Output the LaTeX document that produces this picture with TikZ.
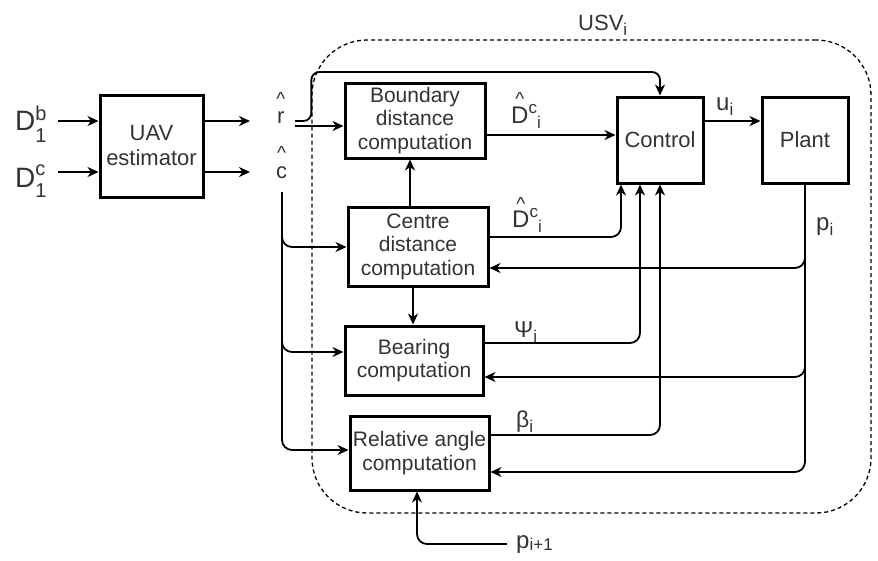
\documentclass[tikz,border=0pt]{standalone}
\usepackage{fontspec}
\setmainfont{Liberation Sans}
\usetikzlibrary{arrows.meta}
\definecolor{txt}{HTML}{333333}
\newcommand\fs[1]{\fontsize{#1}{#1}\selectfont}
\newcommand\sbs[1]{\raisebox{-5pt}{\fs{17}#1}}
\newcommand\sps[1]{\raisebox{10pt}{\fs{17}#1}}
\newcommand\hatt[2][20pt]{\leavevmode\setbox0\hbox{#2}\rlap{\hbox to \wd0{\hss\raisebox{#1}{\fs{19}\textasciicircum}\hss}}\box0}
\begin{document}
\begin{tikzpicture}[x=1pt,y=-1pt,
  box/.style={draw, line width=3pt, align=center, inner sep=0pt, text=txt,
    font=\fontsize{21}{23.5}\selectfont},
  conn/.style={line width=1.8pt, -{Stealth[length=11pt,width=10pt,inset=3.5pt]}, rounded corners=10pt},
  lbl/.style={inner sep=0pt, anchor=base west, text=txt, font=\fs{23}},
  cont/.style={draw, line width=1.3pt, dash pattern=on 4pt off 3pt, rounded corners=55pt}]
\fill[white] (0,0) rectangle (878,560);
\useasboundingbox (0,0) rectangle (878,560);

% container
\node[cont, minimum width=559pt, minimum height=473pt, inner sep=0pt] (usv) at (591.5,276.5) {};
\node[lbl, font=\fs{22}] (usvl) at (578,30) {USV\sbs{i}};

% blocks
\node[box, minimum width=103pt, minimum height=102pt, font=\fontsize{22}{25}\selectfont] (uav) at (151.5,146) {UAV\\estimator};
\node[box, minimum width=140pt, minimum height=75pt] (bnd) at (415,120.5) {Boundary\\distance\\computation};
\node[box, minimum width=86pt, minimum height=86pt, font=\fs{22}] (ctl) at (660,140) {Control};
\node[box, minimum width=86pt, minimum height=86pt, font=\fs{22}] (plant) at (805,140) {Plant};
\node[box, minimum width=140pt, minimum height=79pt] (cen) at (418,246.5) {Centre\\distance\\computation};
\node[box, minimum width=138pt, minimum height=69pt] (brg) at (414,360.5) {Bearing\\computation};
\node[box, minimum width=139pt, minimum height=74pt] (rel) at (419.5,453) {Relative angle\\computation};

% labels
\node[lbl, font=\fs{28}] (d1b) at (15,130) {D\rlap{\raisebox{10pt}{\fs{20}b}}\raisebox{-12pt}{\fs{20}1}};
\node[lbl, font=\fs{28}] (d1c) at (15,187) {D\rlap{\raisebox{12pt}{\fs{20}c}}\raisebox{-10pt}{\fs{20}1}};
\node[lbl, font=\fs{22}] (rh) at (277,123) {\hatt[18pt]{r}};
\node[lbl, font=\fs{22}] (ch) at (276,178) {\hatt[19pt]{c}};
\node[lbl, font=\fs{24}] (dc1) at (511,123) {\hatt[18pt]{D}\sps{c}\sbs{i}};
\node[lbl, font=\fs{24}] (dc2) at (512,227) {\hatt[17pt]{D}\sps{c}\sbs{i}};
\node[lbl, font=\fs{23}] (psi) at (514,337) {Ψ\sbs{i}};
\node[lbl, font=\fs{23}] (beta) at (516,427) {β\sbs{i}};
\node[lbl, font=\fs{24}] (pil) at (816,230) {p\sbs{i}};
\node[lbl, font=\fs{24}] (pnl) at (516,548) {p\raisebox{-2pt}{\fs{17}i+1}};
\node[lbl, font=\fs{24}] (uil) at (716,110) {u\sbs{i}};

% free ends
\coordinate (d1bo) at (58,121);
\coordinate (d1co) at (58,172);
\coordinate (ri) at (250,121);
\coordinate (ci) at (250,172);
\coordinate (ro1) at (295,121);
\coordinate (ro2) at (295,126);
\coordinate (co) at (282,192);
\coordinate (pno) at (507,544);

% connectors
\draw[conn] (d1bo) -- (uav.west |- d1bo);
\draw[conn] (d1co) -- (uav.west |- d1co);
\draw[conn] (uav.east |- ri) -- (ri);
\draw[conn] (uav.east |- ci) -- (ci);
\draw[conn] (ro2) -- (bnd.west |- ro2);
\draw[conn, rounded corners=8pt] (ro1) -| (usv.west |- 0,72) -| (ctl.north);
\draw[conn] (bnd.east |- 0,135) -- (ctl.west |- 0,135);
\draw[conn] (ctl.east |- 0,121) -- (plant.west |- 0,121);
\draw[conn] (cen.north -| 410,0) -- (bnd.south -| 410,0);
\draw[conn] (cen.south -| 413,0) -- (brg.north -| 413,0);
\draw[conn] (cen.east |- 0,237) -| (ctl.south -| 621,0);
\draw[conn] (brg.east |- 0,343) -| (ctl.south -| 640,0);
\draw[conn] (rel.east |- 0,435) -| (ctl.south);
\draw[conn] (plant.south) |- (cen.east |- 0,268);
\draw[conn] (plant.south) |- (brg.east |- 0,377);
\draw[conn] (plant.south) |- (rel.east |- 0,472);
\draw[conn] (co) |- (cen.west |- 0,247);
\draw[conn] (co) |- (brg.west |- 0,352);
\draw[conn] (co) |- (rel.west |- 0,450);
\draw[conn] (pno) -| (rel.south -| 417,0);
\end{tikzpicture}
\end{document}
